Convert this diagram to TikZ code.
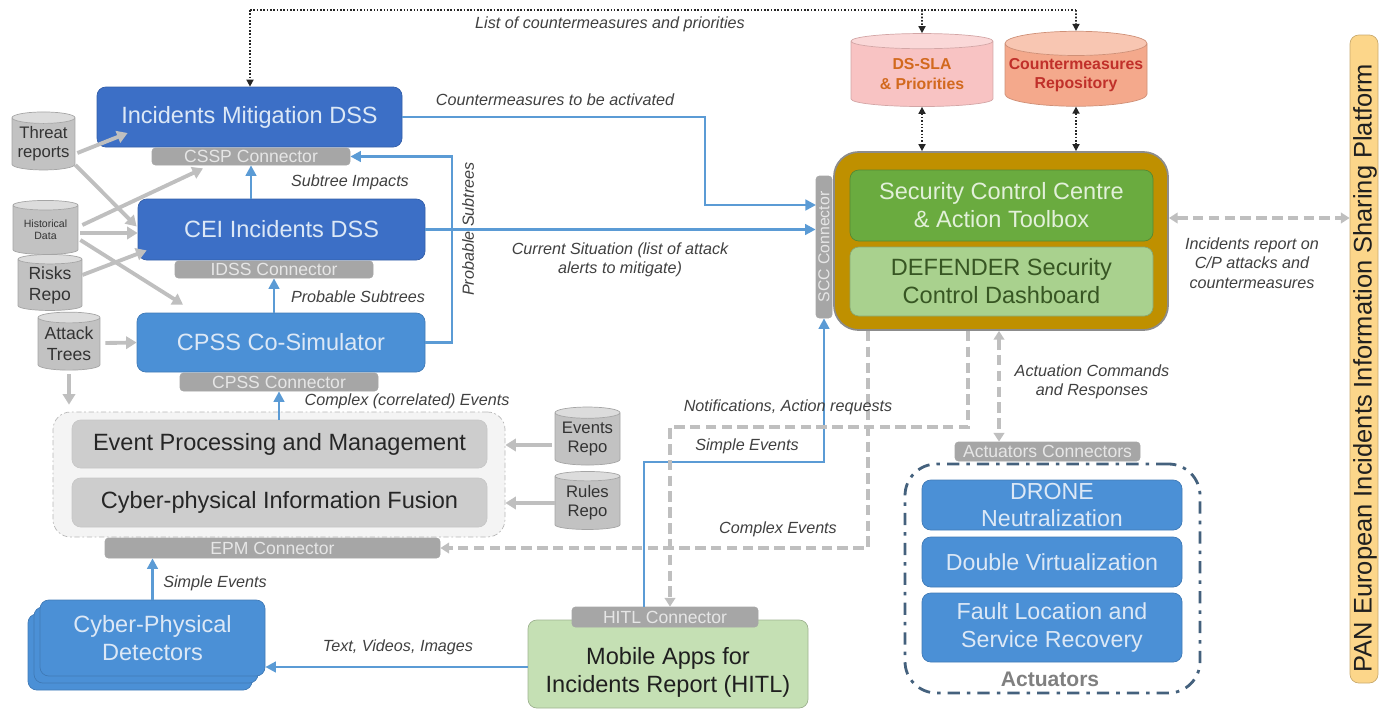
\documentclass[tikz,border=0pt]{standalone}
\usepackage{fontspec}
\setmainfont{Liberation Sans}
\usetikzlibrary{shapes.geometric,arrows.meta,calc}
\definecolor{dblue}{HTML}{3C6FC6}
\definecolor{mblue}{HTML}{4B90D6}
\definecolor{ablue}{HTML}{5B9BD5}
\definecolor{btext}{HTML}{DCE8F6}
\definecolor{conn}{HTML}{A6A6A6}
\definecolor{conntext}{HTML}{E6E6E6}
\definecolor{gline}{HTML}{BFBFBF}
\definecolor{labtext}{HTML}{404040}
\definecolor{cylbody}{HTML}{C2C2C2}
\definecolor{cyltop}{HTML}{DCDCDC}
\definecolor{cyldraw}{HTML}{A5A5A5}
\definecolor{epmfill}{HTML}{CDCDCD}
\definecolor{epmbg}{HTML}{F4F4F4}
\definecolor{sccgold}{HTML}{BF9000}
\definecolor{sccgreen}{HTML}{6AAB3F}
\definecolor{sccltxt}{HTML}{E2F0D9}
\definecolor{defgreen}{HTML}{A9D18E}
\definecolor{deftxt}{HTML}{375623}
\definecolor{mobgreen}{HTML}{C5E0B4}
\definecolor{slapink}{HTML}{F8C3C3}
\definecolor{slapinktop}{HTML}{FAD8D8}
\definecolor{slatxt}{HTML}{D2691E}
\definecolor{cmsalmon}{HTML}{F4A98C}
\definecolor{cmsalmontop}{HTML}{F8C6B2}
\definecolor{cmtxt}{HTML}{C0302A}
\definecolor{panfill}{HTML}{FCD68A}
\definecolor{actdraw}{HTML}{44617D}
\tikzset{
 bigfont/.style={font=\fontsize{13.4}{16}\selectfont},
 bx/.style={rounded corners=5pt, inner sep=0pt, align=center, bigfont},
 dbox/.style={bx, fill=dblue, draw=dblue!85!black, text=btext},
 mbox/.style={bx, fill=mblue, draw=mblue!85!black, text=btext},
 gbox/.style={bx, fill=epmfill, draw=black!22, text=black!85},
 connbox/.style={rounded corners=2pt, inner sep=0pt, fill=conn, draw=black!35, text=conntext, font=\fontsize{10}{12}\selectfont},
 lab/.style={font=\fontsize{9.2}{11}\selectfont\itshape, text=labtext, align=center, inner sep=1pt},
 cyl/.style={cylinder, shape border rotate=90, aspect=0.22, draw=cyldraw, cylinder uses custom fill, cylinder body fill=cylbody, cylinder end fill=cyltop, align=center, inner sep=0pt, text=black!80, font=\fontsize{9.5}{11}\selectfont},
 barrow/.style={draw=ablue, line width=1.5pt, -{Triangle[length=6pt,width=6pt]}},
 garrow/.style={draw=gline, line width=2.2pt, -{Triangle[length=6pt,width=7pt]}},
 gdash/.style={draw=gline, line width=1.8pt, dash pattern=on 6pt off 3pt},
 gtip/.style={-{Triangle[length=5pt,width=6pt]}},
 gtips/.style={{Triangle[length=5pt,width=6pt]}-{Triangle[length=5pt,width=6pt]}},
 dotline/.style={draw=black!85, line width=0.9pt, densely dotted},
 dottip/.style={-{Triangle[length=4pt,width=4pt]}},
 dottips/.style={{Triangle[length=4pt,width=4pt]}-{Triangle[length=4pt,width=4pt]}},
}
% #1 style, #2 x1, #3 y1, #4 x2, #5 y2, #6 name, #7 text
\newcommand\bnode[7]{\node[#1, minimum width={(#4-#2)*0.02cm}, minimum height={(#5-#3)*0.02cm}] (#6) at ({(#2+#4)/2},{(#3+#5)/2}) {#7};}
\begin{document}
\begin{tikzpicture}[x=0.02cm, y=-0.02cm]
\useasboundingbox (0,0) rectangle (1379,710);

% ---------- left column boxes ----------
\bnode{dbox}{97}{87}{402}{147}{im}{Incidents Mitigation DSS}
\bnode{connbox}{152}{148}{350}{165}{cssp}{CSSP Connector}
\bnode{dbox}{138}{199}{425}{260}{cei}{CEI Incidents DSS}
\bnode{connbox}{175}{261}{373}{278}{idss}{IDSS Connector}
\bnode{mbox}{137}{313}{425}{372}{cpss}{CPSS Co-Simulator}
\bnode{connbox}{180}{373}{378}{391}{cpssc}{CPSS Connector}

\bnode{rounded corners=10pt, fill=epmbg, draw=black!28, dash pattern=on 3pt off 1.5pt on 1pt off 1.5pt, inner sep=0pt}{53}{412}{505}{537}{epm}{}
\bnode{gbox}{72}{420}{487}{468}{epm1}{Event Processing and Management}
\bnode{gbox}{72}{478}{487}{527}{epm2}{Cyber-physical Information Fusion}
\bnode{connbox}{105}{538}{440}{558}{epmc}{EPM Connector}

\bnode{mbox}{28}{614}{252}{690}{det3}{}
\bnode{mbox}{34}{607}{258}{683}{det2}{}
\bnode{mbox}{40}{600}{265}{676}{det}{Cyber-Physical\\Detectors}

\bnode{bx, fill=mobgreen, draw=mobgreen!80!black}{528}{620}{808}{708}{mob}{}
\node[bigfont, text=black!88, align=center, inner sep=0pt] (mobt) at (668,672) {Mobile Apps for\\Incidents Report (HITL)};
\bnode{connbox}{572}{607}{758}{627}{hitl}{HITL Connector}

% ---------- cylinders ----------
\node[cyl, minimum width=1.26cm, minimum height=1.16cm] (threat) at (43.5,144) {Threat\\reports};
\node[cyl, minimum width=1.3cm, minimum height=1.08cm, font=\fontsize{6}{7}\selectfont] (hist) at (45.5,230) {Historical\\Data};
\node[cyl, minimum width=1.28cm, minimum height=1.12cm, font=\fontsize{10}{12}\selectfont] (risks) at (50,285) {Risks\\Repo};
\node[cyl, minimum width=1.24cm, minimum height=1.16cm, font=\fontsize{10}{12}\selectfont] (attack) at (69,344) {Attack\\Trees};
\node[cyl, minimum width=1.3cm, minimum height=1.16cm] (events) at (587.5,439) {Events\\Repo};
\node[cyl, minimum width=1.3cm, minimum height=1.16cm] (rules) at (587.5,503) {Rules\\Repo};
\node[cyl, aspect=0.18, minimum width=2.84cm, minimum height=1.46cm, draw=slapink!85!black, cylinder body fill=slapink, cylinder end fill=slapinktop, text=slatxt, font=\fontsize{9}{11}\selectfont\bfseries] (dssla) at (922,74) {DS-SLA\\\& Priorities};
\node[cyl, aspect=0.18, minimum width=2.84cm, minimum height=1.5cm, draw=cmsalmon!85!black, cylinder body fill=cmsalmon, cylinder end fill=cmsalmontop, text=cmtxt, font=\fontsize{9}{11}\selectfont\bfseries] (cmr) at (1076,75) {Countermeasures\\Repository};

% ---------- security control centre ----------
\bnode{rounded corners=14pt, fill=sccgold, draw=black!45, line width=1pt, inner sep=0pt}{834}{152}{1168}{330}{scco}{}
\bnode{bx, fill=sccgreen, draw=sccgreen!80!black, text=sccltxt}{850}{170}{1153}{241}{scc}{Security Control Centre\\\& Action Toolbox}
\bnode{bx, fill=defgreen, draw=defgreen!80!black, text=deftxt}{850}{247}{1153}{316}{dash}{DEFENDER Security\\Control Dashboard}
\bnode{rounded corners=2pt, fill=conn, draw=black!35, inner sep=0pt}{816}{176}{832}{318}{sccc}{}
\node[rotate=90, text=conntext, font=\fontsize{9}{11}\selectfont, inner sep=0pt] (sccct) at (sccc.center) {SCC Connector};

% ---------- actuators ----------
\bnode{connbox}{955}{442}{1140}{461}{actc}{Actuators Connectors}
\bnode{rounded corners=18pt, draw=actdraw, line width=1.6pt, dash pattern=on 7pt off 4pt on 2pt off 4pt, inner sep=0pt}{905}{464}{1200}{693}{actb}{}
\bnode{mbox, font=\fontsize{13.2}{15}\selectfont}{922}{480}{1182}{530}{drone}{DRONE\\Neutralization}
\bnode{mbox, font=\fontsize{13.2}{15}\selectfont}{922}{537}{1182}{587}{dv}{Double Virtualization}
\bnode{mbox, font=\fontsize{13.2}{16}\selectfont}{922}{593}{1182}{662}{flsr}{Fault Location and\\Service Recovery}
\node[font=\fontsize{12}{14}\selectfont\bfseries, text=black!50] (actl) at (1050,679) {Actuators};

% ---------- PAN platform ----------
\bnode{rounded corners=5pt, fill=panfill, draw=panfill!80!black, inner sep=0pt}{1350}{35}{1378}{683}{pan}{}
\node[rotate=90, font=\fontsize{14.5}{16}\selectfont, text=black!88, inner sep=0pt] (pant) at (1365,368) {PAN European Incidents Information Sharing Platform};

% ---------- dotted top connectors ----------
\coordinate (tl) at (250,10);
\coordinate (tm) at (922,10);
\coordinate (tr) at (1076,10);
\draw[dotline] (tl) -- (tr);
\draw[dotline, dottip] (tl) -- (tl |- im.north);
\draw[dotline, dottip] (tm) -- (dssla.north);
\draw[dotline, dottip] (tr) -- (cmr.north);
\draw[dotline, dottips] (dssla.south) -- (dssla.south |- scco.north);
\draw[dotline, dottips] (cmr.south) -- (cmr.south |- scco.north);
\node[lab] (l0) at (610,24) {List of countermeasures and priorities};

% ---------- blue connectors ----------
\coordinate (b1) at (705,117);
\coordinate (s1) at (816,205);
\draw[barrow] (im.east) -- (b1) |- (s1);
\node[lab] (l1) at (555,100) {Countermeasures to be activated};
\draw[barrow] (cei.east) -- (cei.east -| sccc.west);
\node[lab] (l2) at (620,260) {Current Situation (list of attack\\alerts to mitigate)};
\coordinate (p1) at (452,342);
\draw[barrow] (cpss.east) -- (cpss.east -| p1) -- (p1 |- cssp.east) -- (cssp.east);
\node[lab, rotate=90] (l3) at (468,229) {Probable Subtrees};
\draw[barrow] (cssp.south |- cei.north) -- (cssp.south);
\node[lab] (l4) at (350,182) {Subtree Impacts};
\draw[barrow] (idss.south |- cpss.north) -- (idss.south);
\node[lab] (l5) at (358,297) {Probable Subtrees};
\draw[barrow] (cpssc.south |- epm1.north) -- (cpssc.south);
\node[lab] (l6) at (407,401) {Complex (correlated) Events};
\draw[barrow] (det.north) -- (det.north |- epmc.south);
\node[lab] (l7) at (215,583) {Simple Events};
\coordinate (d1) at (0,667);
\draw[barrow] (mob.west |- d1) -- (det.east |- d1);
\node[lab] (l8) at (398,647) {Text, Videos, Images};
\coordinate (h1) at (644,462);
\coordinate (h2) at (824,462);
\draw[barrow] (hitl.north -| h1) -- (h1) -- (h2) -- (h2 |- sccc.south);
\node[lab] (l9) at (747,446) {Simple Events};

% ---------- grey dashed connectors ----------
\coordinate (c1) at (868,548);
\draw[gdash, gtip] (scco.south -| c1) -- (c1) -- (epmc.east);
\node[lab] (l10) at (778,529) {Complex Events};
\coordinate (n1) at (968,427);
\coordinate (n2) at (670,427);
\draw[gdash, gtip] (scco.south -| n1) -- (n1) -- (n2) -- (n2 |- hitl.north);
\node[lab] (l11) at (788,407) {Notifications, Action requests};
\coordinate (a1) at (999,400);
\draw[gdash, gtips] (scco.south -| a1) -- (a1 |- actc.north);
\node[lab] (l12) at (1092,382) {Actuation Commands\\and Responses};
\coordinate (r1) at (1250,218);
\draw[gdash, gtips] (scco.east |- r1) -- (pan.west |- r1);
\node[lab] (l13) at (1252,263) {Incidents report on\\C/P attacks and\\countermeasures};

% ---------- grey solid arrows from repositories ----------
\coordinate (hx) at ([shift={(2,3)}]hist.east);
\coordinate (ex) at ([shift={(-3,6)}]events.west);
\draw[garrow] ([shift={(2,9)}]threat.east) -- ([shift={(31,16)}]im.west);
\draw[garrow] ([shift={(0,21)}]threat.east) -- ([shift={(-1,-3)}]cei.west);
\draw[garrow] ([shift={(4,-5)}]hist.east) -- ([shift={(-48,3)}]cssp.south);
\draw[garrow] (hx) -- (cei.west |- hx);
\draw[garrow] ([shift={(2,10)}]hist.east) -- ([shift={(-98,-8)}]cpss.north);
\draw[garrow] ([shift={(0,-10)}]risks.east) -- ([shift={(9,-10)}]cei.south west);
\draw[garrow] ([shift={(5,-1)}]attack.east) -- (cpss.west);
\draw[garrow] ([shift={(0,4)}]attack.south) -- ([shift={(0,-7)}]attack.south |- epm.north);
\draw[garrow] (ex) -- (epm.east |- ex);
\draw[garrow] (rules.west) -- (epm.east |- rules.west);
\end{tikzpicture}
\end{document}
